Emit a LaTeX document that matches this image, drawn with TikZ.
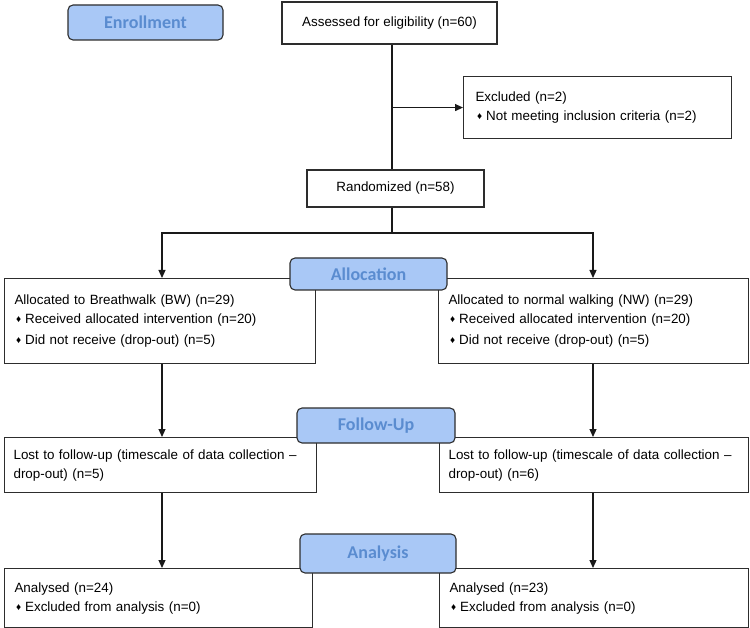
\documentclass[tikz,border=0pt]{standalone}
\usepackage{fontspec}
\setmainfont{Liberation Sans}
\newfontfamily\stagefont{Carlito}
\usetikzlibrary{arrows.meta}
\definecolor{stagefill}{RGB}{169,200,246}
\definecolor{stagetext}{RGB}{90,140,208}
\definecolor{boxline}{RGB}{45,45,45}
\newcommand{\bul}{\hspace{1.5pt}{\fontsize{10}{10}\selectfont\raisebox{0.1ex}{♦}}\hspace{4pt}}
\begin{document}
\begin{tikzpicture}[x=1pt,y=-1pt,
  box/.style={draw=boxline, line width=1.1pt, rectangle, anchor=north west,
    inner xsep=10pt, inner ysep=0pt, align=left,
    font=\fontsize{13.4}{19}\selectfont},
  cbox/.style={draw=boxline, line width=1.1pt, rectangle, inner sep=0pt,
    align=center, font=\fontsize{13.4}{19}\selectfont},
  stage/.style={draw=boxline, line width=1.1pt, rounded corners=5pt,
    fill=stagefill, inner sep=0pt, text=stagetext,
    font=\stagefont\bfseries\fontsize{18}{18}\selectfont},
  conn/.style={draw=black!90, line width=1.2pt},
  arr/.style={conn, -{Triangle[length=8pt,width=7pt]}}]
\useasboundingbox (0,0) rectangle (750,628);

\coordinate (mx) at (392,0);
\coordinate (cl) at (162,0);
\coordinate (cr) at (593,0);
\coordinate (split) at (392,233);

% content boxes
\node[cbox, minimum width=215pt, minimum height=42pt] (as) at (389.5,23)
  {Assessed for eligibility (n=60)};
\node[box, inner xsep=12pt, text width=244pt, minimum height=62pt] (ex) at (463,76)
  {Excluded (n=2)\\ \bul Not meeting inclusion criteria (n=2)};
\node[cbox, minimum width=177pt, minimum height=37pt] (ra) at (395.5,188.5)
  {Randomized (n=58)};

\node[box, text width=291pt, minimum height=85pt] (la) at (4,278)
  {Allocated to Breathwalk (BW) (n=29)\\ \bul Received allocated intervention (n=20)\\[2pt] \bul Did not receive (drop-out) (n=5)};
\node[box, text width=290pt, minimum height=85pt] (ra2) at (438,278)
  {Allocated to normal walking (NW) (n=29)\\ \bul Received allocated intervention (n=20)\\[2pt] \bul Did not receive (drop-out) (n=5)};

\node[box, inner xsep=9pt, text width=294pt, minimum height=55pt] (ll) at (4,437)
  {\mbox{Lost to follow-up (timescale of data collection –}\\ drop-out) (n=5)};
\node[box, inner xsep=9pt, text width=291pt, minimum height=55pt] (rl) at (439,437)
  {\mbox{Lost to follow-up (timescale of data collection –}\\ drop-out) (n=6)};

\node[box, text width=288pt, minimum height=59pt] (lb) at (4,568)
  {Analysed (n=24)\\ \bul Excluded from analysis (n=0)};
\node[box, text width=289pt, minimum height=59pt] (rb) at (439,568)
  {Analysed (n=23)\\ \bul Excluded from analysis (n=0)};

% connectors
\draw[conn] (mx |- as.south) -- (mx |- ra.north);
\draw[arr] (mx |- ex.west) -- (ex.west);
\draw[conn] (mx |- ra.south) -- (split);
\draw[arr] (split) -| (cl |- la.north);
\draw[arr] (split) -| (cr |- ra2.north);
\draw[arr] (cl |- la.south) -- (cl |- ll.north);
\draw[arr] (cr |- ra2.south) -- (cr |- rl.north);
\draw[arr] (cl |- ll.south) -- (cl |- lb.north);
\draw[arr] (cr |- rl.south) -- (cr |- rb.north);

% stage labels
\node[stage, minimum width=155pt, minimum height=35pt] (enr) at (145.5,22.5) {Enrollment};
\node[stage, minimum width=157pt, minimum height=32pt] (alc) at (368.5,274) {Allocation};
\node[stage, minimum width=158pt, minimum height=35pt] (fol) at (376,425.5) {Follow-Up};
\node[stage, minimum width=156pt, minimum height=39pt] (ana) at (378,553.5) {Analysis};
\end{tikzpicture}
\end{document}
